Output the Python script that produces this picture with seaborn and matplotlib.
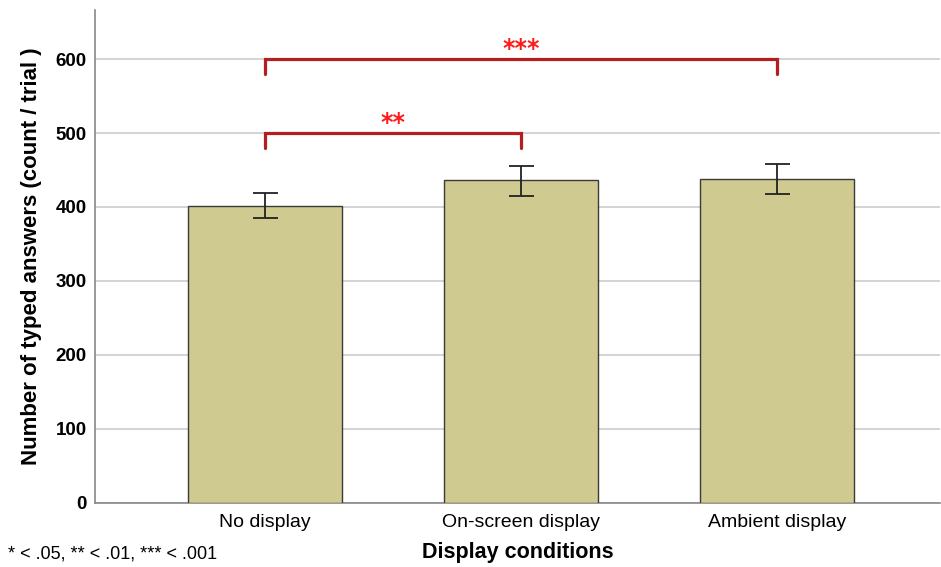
import matplotlib
matplotlib.use("Agg")
import matplotlib.pyplot as plt
import seaborn as sns
import pandas as pd

conditions = ["No display", "On-screen display", "Ambient display"]
means = [401, 436, 438]
err_low = [385, 415, 418]
err_high = [419, 456, 458]
yticks = [0, 100, 200, 300, 400, 500, 600]
brackets = [(0, 1, 500, "**"), (0, 2, 600, "***")]
footnote = "* < .05, ** < .01, *** < .001"

sns.set_theme(style="white")
plt.rcParams['font.family'] = ['Liberation Sans', 'DejaVu Sans']
plt.rcParams['text.color'] = 'black'
plt.rcParams['axes.labelcolor'] = 'black'
plt.rcParams['xtick.color'] = 'black'
plt.rcParams['ytick.color'] = 'black'

df = pd.DataFrame({"cond": conditions, "mean": means})

fig = plt.figure(figsize=(9.41, 5.67), dpi=100)
ax = fig.add_axes([0.101, 0.113, 0.898, 0.869])

sns.barplot(data=df, x="cond", y="mean", ax=ax, color="#CFCA8F",
            edgecolor="#3a3a3a", linewidth=1.0, width=0.6, saturation=1, errorbar=None, zorder=3)

for i, (lo, hi, m) in enumerate(zip(err_low, err_high, means)):
    ax.errorbar(i, m, yerr=[[m - lo], [hi - m]], fmt="none", ecolor="#222222",
                elinewidth=1.3, capsize=9, capthick=1.3, zorder=4)

for a, b, y, lab in brackets:
    ax.plot([a, a, b, b], [y - 20, y, y, y - 20], color="#B51E1E", lw=2.3,
            solid_capstyle="round", solid_joinstyle="miter", zorder=5)
    ax.text((a + b) / 2, y - 3, lab, color="#FF1A1A", ha="center", va="bottom",
            fontsize=17, fontweight="bold", family="DejaVu Sans")

ax.set_ylim(0, 666)
ax.set_xlim(-0.664, 2.637)
ax.set_yticks(yticks)
ax.set_yticklabels([str(t) for t in yticks], fontsize=13.5, fontweight="bold")
ax.tick_params(axis="x", labelsize=14, length=0, pad=8)
ax.tick_params(axis="y", length=0, pad=6)
ax.yaxis.grid(True, color="#cccccc", lw=1.2, zorder=0)
ax.set_axisbelow(True)
for s in ["top", "right"]:
    ax.spines[s].set_visible(False)
for s in ["left", "bottom"]:
    ax.spines[s].set_color("#888888")
    ax.spines[s].set_linewidth(1.2)

ax.set_xlabel("Display conditions", fontsize=15.5, fontweight="bold", labelpad=8)
ax.set_ylabel("Number of typed answers (count / trial )", fontsize=16, fontweight="bold", labelpad=10)

fig.text(0.008, 0.008, footnote, fontsize=13, ha="left", va="bottom")

fig.savefig("out.png", dpi=100)
